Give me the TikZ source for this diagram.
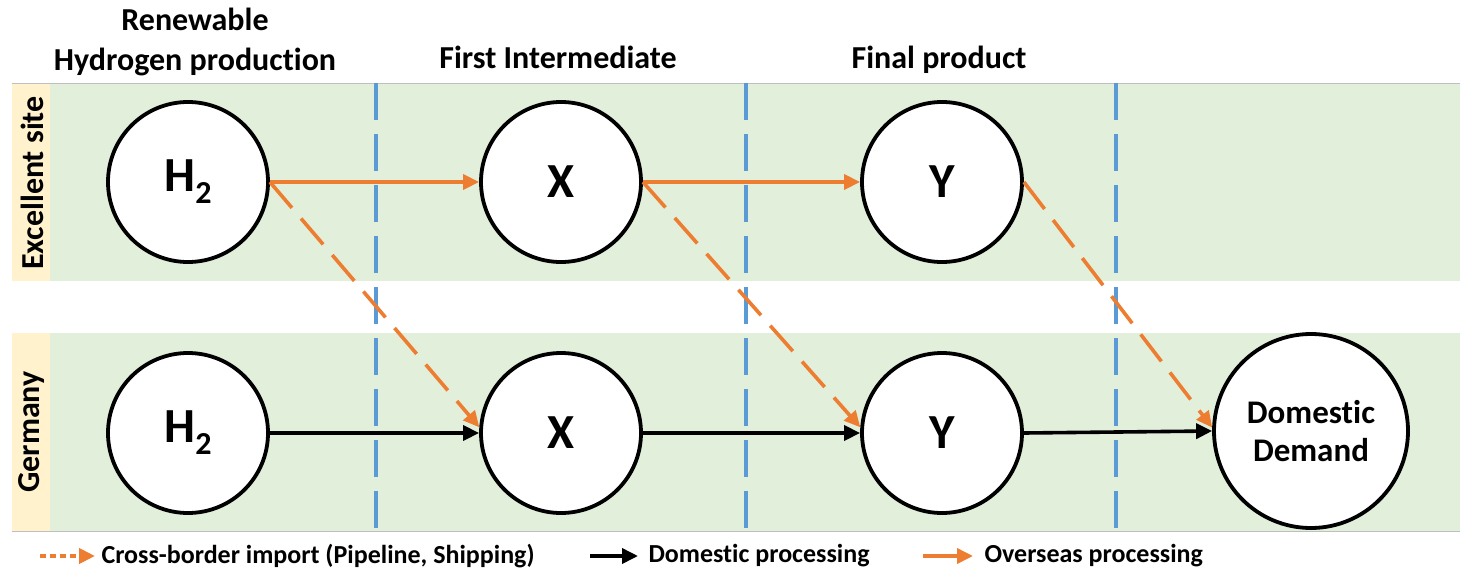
\documentclass[tikz,border=0pt]{standalone}
\usepackage{fontspec}
\setmainfont[Ligatures=NoCommon]{Carlito}
\usetikzlibrary{arrows.meta}
\definecolor{bandgreen}{HTML}{E2EFDA}
\definecolor{labelyellow}{HTML}{FFF2CC}
\definecolor{flowblue}{HTML}{5B9BD5}
\definecolor{floworange}{HTML}{ED7D31}
\definecolor{rulegray}{HTML}{BFBFBF}
\newcommand{\htwo}{H\raisebox{-12pt}{\fontsize{32}{32}\selectfont 2}}
\begin{document}
\begin{tikzpicture}[x=1pt,y=-1pt,
  state/.style={circle,draw=black,line width=3.8pt,fill=white,minimum size=160pt,
    inner sep=0pt,font=\bfseries\fontsize{49}{49}\selectfont},
  demand/.style={state,minimum size=194pt,align=center,
    font=\bfseries\fontsize{33}{38}\selectfont},
  header/.style={font=\bfseries\fontsize{32}{40}\selectfont,align=center,anchor=base},
  sidelabel/.style={rotate=90,font=\bfseries\fontsize{32}{32}\selectfont},
  legendtext/.style={font=\bfseries\fontsize{26}{26}\selectfont,anchor=west},
  tip/.style={-{Triangle[length=16pt,width=15pt]}},
  domestic/.style={tip,line width=3.6pt,draw=black},
  overseas/.style={tip,line width=3.6pt,draw=floworange},
  import/.style={tip,line width=3.6pt,draw=floworange,dash pattern=on 34pt off 14pt},
  divider/.style={line width=3.5pt,draw=flowblue,dash pattern=on 37pt off 14pt}
]
\useasboundingbox (0,0) rectangle (1460,573);

% country bands
\fill[bandgreen] (12,83) rectangle (1460,281);
\fill[bandgreen] (12,333) rectangle (1460,531);
\fill[labelyellow] (12,83) rectangle (50,281);
\fill[labelyellow] (12,333) rectangle (50,531);
\draw[rulegray,line width=1pt] (12,83) -- (1460,83);
\draw[rulegray,line width=1pt] (12,531) -- (1460,531);

\node[sidelabel] (lblsite) at (32,183) {Excellent site};
\node[sidelabel] (lblde) at (32,432) {Germany};

% stage dividers
\foreach \x in {376,746,1116}
  \draw[divider] (\x,83) -- (\x,531);

% stage headers
\node[header] (hdrA) at (195,70) {Renewable\\Hydrogen production};
\node[header] (hdrB) at (558,68) {First Intermediate};
\node[header] (hdrC) at (939,68) {Final product};

% process nodes
\node[state] (Ht) at (188,182) {\htwo};
\node[state] (Xt) at (561,182) {X};
\node[state] (Yt) at (942,182) {Y};
\node[state] (Hb) at (188,433) {\htwo};
\node[state] (Xb) at (561,433) {X};
\node[state] (Yb) at (942,433) {Y};
\node[demand] (D) at (1311,431) {Domestic\\Demand};

% overseas processing chain
\draw[overseas] (Ht.east) -- (Xt.west);
\draw[overseas] (Xt.east) -- (Yt.west);

% cross-border imports
\draw[import] (Ht.east) -- (Xb.176);
\draw[import] (Xt.east) -- (Yb.176);
\draw[import] (Yt.east) -- (D.178);

% domestic processing chain
\draw[domestic] (Hb.east) -- (Xb.west);
\draw[domestic] (Xb.east) -- (Yb.west);
\draw[domestic] (Yb.east) -- (D.west);

% legend
\coordinate (l1a) at (40,556);
\coordinate (l1b) at (95,556);
\draw[floworange,line width=4pt,dash pattern=on 6pt off 4pt,tip] (l1a) -- (l1b);
\node[legendtext] (t1) at (98,556) {Cross-border import (Pipeline, Shipping)};
\coordinate (l2a) at (590,556);
\coordinate (l2b) at (638,556);
\draw[domestic] (l2a) -- (l2b);
\node[legendtext] (t2) at (645,556) {Domestic processing};
\coordinate (l3a) at (923,556);
\coordinate (l3b) at (973,556);
\draw[overseas] (l3a) -- (l3b);
\node[legendtext] (t3) at (981,556) {Overseas processing};
\end{tikzpicture}
\end{document}
